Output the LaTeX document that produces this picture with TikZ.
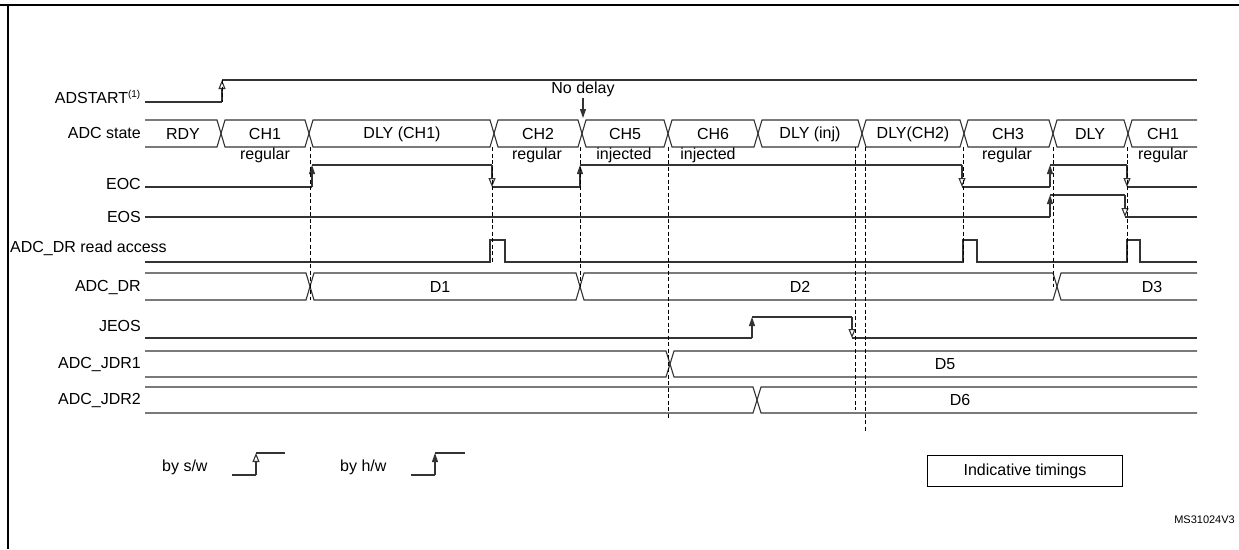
\documentclass[tikz,border=0pt]{standalone}
\usepackage{fontspec}
\setmainfont{Liberation Sans}
\usetikzlibrary{arrows.meta}
\newcommand\sfirst[4]{\draw[sig] (#1,#3) -- ({#2-4},#3) -- (#2,{(#3+#4)/2}) -- ({#2-4},#4) -- (#1,#4);}
\newcommand\smid[4]{\draw[sig] (#1,{(#3+#4)/2}) -- ({#1+4},#3) -- ({#2-4},#3) -- (#2,{(#3+#4)/2}) -- ({#2-4},#4) -- ({#1+4},#4) -- cycle;}
\newcommand\slast[4]{\draw[sig] (#2,#3) -- ({#1+4},#3) -- (#1,{(#3+#4)/2}) -- ({#1+4},#4) -- (#2,#4);}
\begin{document}
\begin{tikzpicture}[x=1pt,y=-1pt,
  sig/.style={line width=1.1pt,black!80},
  dsh/.style={line width=0.8pt,dash pattern=on 4pt off 2.5pt},
  up/.style={sig,-{Triangle[width=6pt,length=9pt]}},
  upo/.style={sig,-{Triangle[open,width=7pt,length=9pt]}},
  lbl/.style={font=\fontsize{16}{18}\selectfont,anchor=east,inner sep=0pt},
  txt/.style={font=\fontsize{16}{18}\selectfont,inner sep=0pt}]
\useasboundingbox (0,0) rectangle (1239,549);
\draw[line width=2pt] (0,5) -- (1239,5);
\draw[line width=1.3pt] (8,5) -- (8,549);
% labels
\node[lbl] (l1) at (141,97) {ADSTART\textsuperscript{\fontsize{10}{11}\selectfont(1)}};
\node[lbl] (l2) at (141,133) {ADC state};
\node[lbl] (l3) at (141,184) {EOC};
\node[lbl] (l4) at (141,217) {EOS};
\node[lbl,anchor=west] (l5) at (10,248) {ADC\_DR read access};
\node[lbl] (l6) at (141,287) {ADC\_DR};
\node[lbl] (l7) at (141,326) {JEOS};
\node[lbl] (l8) at (141,364) {ADC\_JDR1};
\node[lbl] (l9) at (141,400) {ADC\_JDR2};
% ADSTART
\draw[sig] (145,102) -- (222,102);
\draw[upo] (222,102) -- (222,80);
\draw[sig] (222,80) -- (1197,80);
\node[txt] (nd) at (583,89) {No delay};
\draw[up] (583,98) -- (583,118);
% ADC state
\sfirst{145}{221}{120}{147}
\smid{221}{309}{120}{147}
\smid{309}{494}{120}{147}
\smid{494}{582}{120}{147}
\smid{582}{668}{120}{147}
\smid{668}{758}{120}{147}
\smid{758}{862}{120}{147}
\smid{862}{964}{120}{147}
\smid{964}{1053}{120}{147}
\smid{1053}{1128}{120}{147}
\slast{1128}{1197}{120}{147}
\foreach \x/\t in {183/RDY,265/CH1,402/DLY (CH1),538/CH2,625/CH5,713/CH6,810/DLY (inj),913/DLY(CH2),1008/CH3,1090/DLY,1163/CH1}
  \node[txt] at (\x,134) {\t};
\foreach \x/\t in {265/regular,537/regular,624/injected,708/injected,1007/regular,1163/regular}
  \node[txt] at (\x,155) {\t};
% EOC
\draw[sig] (145,187) -- (312,187);
\draw[up] (312,187) -- (312,165);
\draw[sig] (312,165) -- (492,165);
\draw[upo] (492,165) -- (492,187);
\draw[sig] (492,187) -- (580,187);
\draw[up] (580,187) -- (580,165);
\draw[sig] (580,165) -- (962,165);
\draw[upo] (962,165) -- (962,187);
\draw[sig] (962,187) -- (1050,187);
\draw[up] (1050,187) -- (1050,165);
\draw[sig] (1050,165) -- (1127,165);
\draw[upo] (1127,165) -- (1127,187);
\draw[sig] (1127,187) -- (1197,187);
% EOS
\draw[sig] (145,217) -- (1050,217);
\draw[up] (1050,217) -- (1050,195);
\draw[sig] (1050,195) -- (1125,195);
\draw[upo] (1125,195) -- (1125,217);
\draw[sig] (1125,217) -- (1197,217);
% read access
\draw[sig] (145,262) -- (490,262) -- (490,240) -- (505,240) -- (505,262) -- (963,262) -- (963,240) -- (977,240) -- (977,262) -- (1127,262) -- (1127,240) -- (1140,240) -- (1140,262) -- (1197,262);
% ADC_DR
\sfirst{145}{310}{273}{300}
\smid{310}{580}{273}{300}
\smid{580}{1057}{273}{300}
\slast{1057}{1197}{273}{300}
\node[txt] at (440,287) {D1};
\node[txt] at (800,287) {D2};
\node[txt] at (1152,287) {D3};
% JEOS
\draw[sig] (145,338) -- (752,338);
\draw[up] (752,338) -- (752,317);
\draw[sig] (752,317) -- (852,317);
\draw[upo] (852,317) -- (852,338);
\draw[sig] (852,338) -- (1197,338);
% JDR1/2
\sfirst{145}{670}{351}{377}
\slast{670}{1197}{351}{377}
\node[txt] at (945,364) {D5};
\sfirst{145}{757}{387}{413}
\slast{757}{1197}{387}{413}
\node[txt] at (960,400) {D6};
% dashed guides
\draw[dsh] (222,80) -- (222,102);
\draw[dsh] (310,147) -- (310,300);
\draw[dsh] (492,147) -- (492,262);
\draw[dsh] (580,147) -- (580,287);
\draw[dsh] (668,147) -- (668,418);
\draw[dsh] (855,147) -- (855,410);
\draw[dsh] (865,147) -- (865,432);
\draw[dsh] (963,147) -- (963,262);
\draw[dsh] (1053,147) -- (1053,287);
\draw[dsh] (1127,147) -- (1127,262);
% legend
\node[txt,anchor=west] (bs) at (162,467) {by s/w};
\draw[sig] (232,475) -- (256,475);
\draw[upo] (256,475) -- (256,453);
\draw[sig] (256,453) -- (285,453);
\node[txt,anchor=west] (bh) at (340,467) {by h/w};
\draw[sig] (411,475) -- (435,475);
\draw[up] (435,475) -- (435,453);
\draw[sig] (435,453) -- (465,453);
\node[txt,draw,line width=1pt,minimum width=195pt,minimum height=31pt] (it) at (1025,471) {Indicative timings};
\node[font=\fontsize{11}{13}\selectfont,anchor=east,inner sep=0pt] (ms) at (1235,520) {MS31024V3};
\end{tikzpicture}
\end{document}
